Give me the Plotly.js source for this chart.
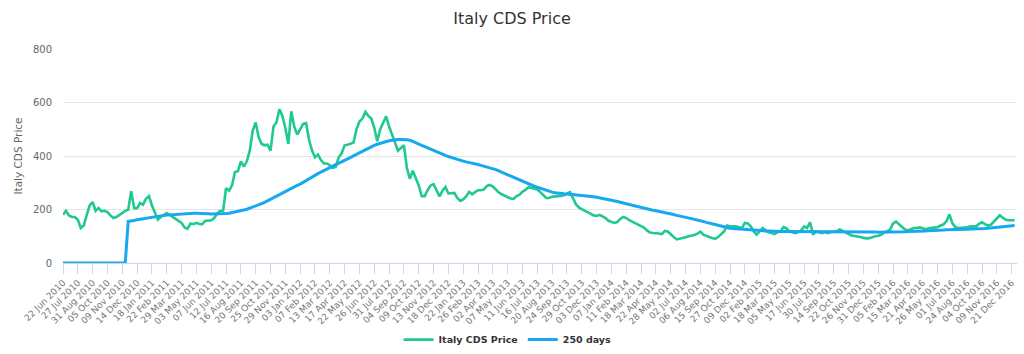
<!DOCTYPE html>
<html>
<head>
<meta charset="utf-8">
<script src="https://cdn.plot.ly/plotly-3.0.1.min.js"></script>
<style>
  html, body { margin: 0; padding: 0; background: #ffffff; }
  #chart { width: 1024px; height: 354px; }
</style>
</head>
<body>
<div id="chart"></div>
<script>
// Trading-day step between consecutive values
const STEP = 5;

// Category tick labels (one every 25 trading days)
const tickLabels = [
  "22 Jun 2010","27 Jul 2010","31 Aug 2010","05 Oct 2010","09 Nov 2010","14 Dec 2010",
  "18 Jan 2011","22 Feb 2011","29 Mar 2011","03 May 2011","07 Jun 2011","12 Jul 2011",
  "16 Aug 2011","20 Sep 2011","25 Oct 2011","29 Nov 2011",
  "03 Jan 2012","07 Feb 2012","13 Mar 2012","17 Apr 2012","22 May 2012","26 Jun 2012",
  "31 Jul 2012","04 Sep 2012","09 Oct 2012","13 Nov 2012","18 Dec 2012",
  "22 Jan 2013","26 Feb 2013","02 Apr 2013","07 May 2013","11 Jun 2013","16 Jul 2013",
  "20 Aug 2013","24 Sep 2013","29 Oct 2013","03 Dec 2013",
  "07 Jan 2014","11 Feb 2014","18 Mar 2014","22 Apr 2014","28 May 2014","02 Jul 2014",
  "06 Aug 2014","15 Sep 2014","27 Oct 2014","09 Dec 2014",
  "02 Feb 2015","18 Mar 2015","05 May 2015","17 Jun 2015","30 Jul 2015","14 Sep 2015",
  "22 Oct 2015","26 Nov 2015","31 Dec 2015",
  "05 Feb 2016","15 Mar 2016","21 Apr 2016","26 May 2016","01 Jul 2016","24 Aug 2016",
  "04 Oct 2016","09 Nov 2016","21 Dec 2016"
];
const TICK_EVERY = 25;

// Italy CDS Price (sampled every 5 trading days)
const cdsPrice = [
  180,195,178,172,172, 162,131,140,180,215, 228,195,205,193,195, 190,178,168,172,180,
  185,195,199,268,205, 205,224,218,240,250, 215,190,162,172,180, 187,180,172,165,158,
  150,133,128,148,145, 150,146,145,158,158, 160,168,185,195,195, 280,270,290,340,343,
  380,360,380,420,495, 525,470,445,440,442, 420,510,525,575,550, 505,445,567,510,480,
  500,520,523,460,420, 395,405,385,372,372, 365,355,360,395,410, 440,442,445,450,500,
  529,540,565,550,540, 505,455,500,525,548, 510,480,445,420,430, 440,355,315,345,315,
  290,250,250,272,290, 295,272,249,270,284, 260,262,262,243,232, 238,249,266,257,265,
  272,272,275,288,292, 286,275,264,257,251, 246,241,240,250,255, 267,273,283,280,276,
  275,265,254,243,243, 248,249,249,251,253, 258,265,243,220,208, 200,195,190,184,178,
  176,180,174,168,158, 153,150,153,165,172, 168,160,155,150,145, 140,132,122,114,112,
  112,110,108,120,118, 106,97,88,90,93, 96,100,102,105,110, 117,106,100,97,93,
  90,97,107,118,140, 137,137,137,134,130, 150,148,137,118,106, 118,131,122,115,112,
  108,115,118,134,130, 118,115,112,116,122, 137,131,152,106,118, 115,112,116,112,116,
  118,119,125,119,112, 106,103,101,100,97, 94,92,93,98,100, 102,105,115,118,125,
  148,155,145,137,125, 122,128,131,131,133, 130,125,130,131,131, 134,140,144,156,182,
  148,134,131,131,132, 133,137,136,137,146, 152,145,140,143,155, 165,178,169,162,160,
  160,160
];

// 250 days moving average (same sampling)
const ma250 = [
  0,0,0,0,0, 0,0,0,0,0, 0,0,0,0,0, 0,0,0,0,0,
  0,0,156,157,159, 162,164,166,168,170, 172,173,175,176,178, 179,180,181,182,183,
  184,184,185,185,186, 186,186,185,184,184, 183,183,183,184,184, 185,186,188,190,193,
  195,198,201,205,208, 212,217,222,227,233, 238,244,250,256,262, 268,273,279,284,290,
  295,302,308,315,321, 328,334,340,346,351, 357,362,367,373,378, 383,389,395,401,406,
  412,418,424,429,435, 440,444,448,451,454, 457,459,461,462,462, 462,461,459,455,450,
  445,440,435,430,425, 420,416,411,407,402, 398,394,391,388,384, 381,378,376,373,371,
  368,365,362,359,356, 353,349,344,339,335, 330,325,320,315,311, 306,301,297,292,287,
  283,279,275,271,268, 265,263,261,260,259, 258,257,256,255,255, 254,253,251,250,248,
  246,244,242,240,237, 235,232,230,227,225, 222,219,216,213,210, 207,205,202,200,197,
  195,193,190,188,185, 183,181,178,176,173, 171,168,166,163,161, 158,155,152,150,147,
  144,141,138,135,133, 130,129,128,127,127, 126,125,124,123,122, 121,121,120,120,119,
  119,119,118,118,118, 118,118,118,118,118, 118,118,118,118,117, 117,117,117,117,117,
  117,117,117,117,117, 117,117,117,116,116, 116,116,116,116,116, 115,115,115,115,115,
  116,116,116,117,117, 118,118,118,119,119, 120,120,121,121,122, 122,123,123,124,124,
  124,125,125,126,126, 126,127,127,128,128, 128,129,130,131,132, 134,135,136,137,138,
  139,140
];

const seriesNames = ["Italy CDS Price", "250 days"];
const yTicks = [0, 200, 400, 600, 800];

const xPrice = cdsPrice.map((_, k) => k * STEP);
const xMa = ma250.map((_, k) => k * STEP);
const tickVals = tickLabels.map((_, k) => k * TICK_EVERY);

const traces = [
  {
    x: xPrice, y: cdsPrice, name: seriesNames[0], type: "scatter", mode: "lines",
    line: { color: "#20c98e", width: 2.6 }, hoverinfo: "skip"
  },
  {
    x: xMa, y: ma250, name: seriesNames[1], type: "scatter", mode: "lines",
    line: { color: "#17a9ef", width: 3 }, hoverinfo: "skip"
  }
];

const layout = {
  width: 1024, height: 354,
  paper_bgcolor: "#ffffff", plot_bgcolor: "#ffffff",
  font: { family: "DejaVu Sans, Verdana, sans-serif", color: "#666666" },
  margin: { l: 63, r: 7, t: 49, b: 91, autoexpand: false },
  title: {
    text: "Italy CDS Price",
    font: { size: 16, color: "#333333" },
    xref: "container", x: 0.5, xanchor: "center",
    yref: "container", y: 1 - 18 / 354, yanchor: "middle"
  },
  xaxis: {
    range: [0, 1609],
    tickmode: "array", tickvals: tickVals, ticktext: tickLabels,
    tickangle: -45,
    tickfont: { size: 9, color: "#777777" },
    ticks: "outside", ticklen: 10, tickcolor: "#ccd6eb", tickwidth: 1,
    showline: true, linecolor: "#ccd6eb", linewidth: 1,
    showgrid: false, zeroline: false, fixedrange: true, automargin: false
  },
  yaxis: {
    range: [0, 800],
    tickmode: "array", tickvals: yTicks,
    tickfont: { size: 10, color: "#666666" },
    gridcolor: "#e6e6e6", gridwidth: 1,
    zeroline: false, showline: false,
    ticks: "", ticklabelstandoff: 10,
    title: { text: "Italy CDS Price", font: { size: 10.5, color: "#666666" }, standoff: 8 },
    fixedrange: true, automargin: false
  },
  showlegend: true,
  legend: {
    orientation: "h",
    x: 0.466, xanchor: "center",
    y: -0.358, yanchor: "middle",
    font: { size: 9.5, color: "#333333", weight: "bold" },
    itemwidth: 30,
    bgcolor: "rgba(0,0,0,0)"
  }
};

Plotly.newPlot("chart", traces, layout, { displayModeBar: false, staticPlot: true });
</script>
</body>
</html>
